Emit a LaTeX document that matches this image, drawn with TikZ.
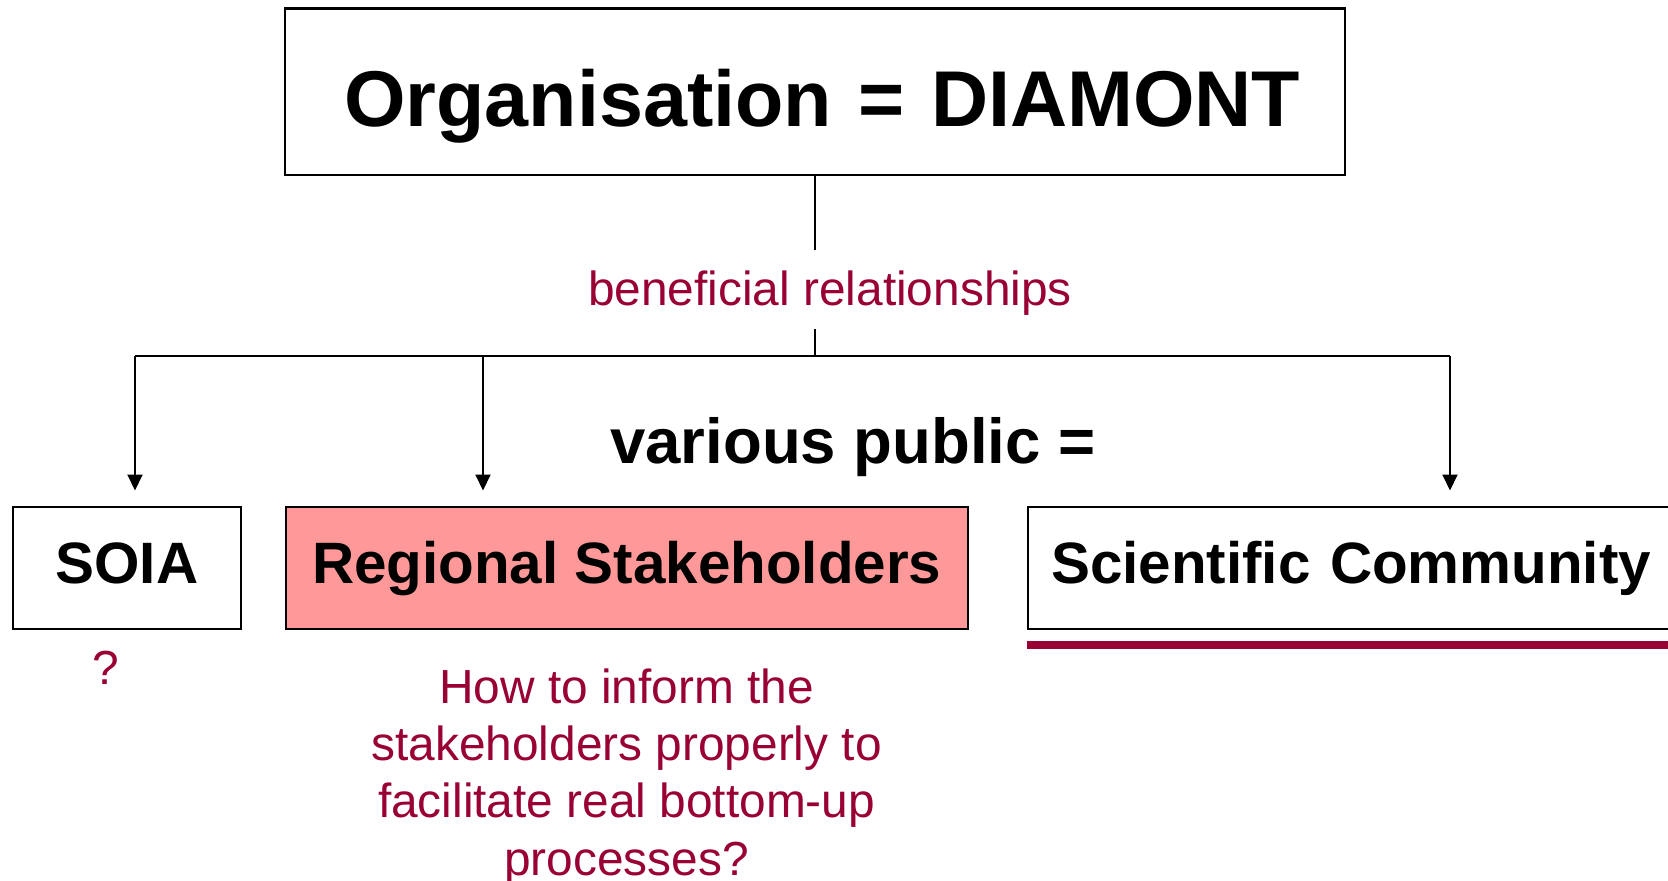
\documentclass[tikz,border=0pt]{standalone}
\usepackage{fontspec}
\setmainfont{Liberation Sans}
\usetikzlibrary{arrows.meta,positioning}
\definecolor{wine}{HTML}{990033}
\definecolor{rose}{HTML}{FF9999}
\begin{document}
\begin{tikzpicture}[x=0.01cm,y=-0.01cm,
  box/.style={draw,line width=0.6pt,minimum height=1.22cm,inner sep=0pt,text height=9pt,text depth=0pt,font=\fontsize{16.6}{20}\selectfont\bfseries},
  note/.style={text=wine,font=\fontsize{13.6}{16.32}\selectfont,align=center,inner sep=0pt},
  link/.style={line width=0.45pt,-{Triangle[length=4.5pt,width=4.3pt]}}]
\useasboundingbox (0,0) rectangle (1668,881);
\node[draw,line width=0.6pt,minimum width=10.6cm,minimum height=1.66cm,text width=9.7cm,align=right,inner xsep=0.45cm,text height=0.70cm,text depth=0pt,font=\fontsize{22.5}{27}\selectfont\bfseries] (org) at (815,91.5) {Organisation = DIAMONT};
\node[note,minimum height=0.776cm,text height=12.2pt,text depth=2.9pt] (rel) at (830,289.5) {beneficial relationships};
\node[box,minimum width=2.28cm] (soia) at (127,568) {SOIA};
\node[box,minimum width=6.815cm,fill=rose] (reg) at (626.75,568) {Regional Stakeholders};
\node[box,anchor=west,minimum width=6.63cm,text width=6.17cm,inner xsep=0.23cm] (sci) at (1027,568) {Scientific Community};
\node[font=\fontsize{18.07}{21.7}\selectfont\bfseries,anchor=base] (pub) at (853,463) {various public =};
\node[note,anchor=base] (q) at (105.5,684) {?};
\node[note] (how) at (626.6,776.8) {How to inform the\\stakeholders properly to\\facilitate real bottom-up\\processes?};
\coordinate (bus) at (815,356);
\coordinate (t1) at (135,356);
\coordinate (t2) at (483,356);
\coordinate (t3) at (1450,356);
\draw[line width=0.45pt] (org.south) -- (org.south |- rel.north) (org.south |- rel.south) -- (bus) (t1) -- (t3);
\foreach \t in {t1,t2,t3} \draw[link] (\t) -- ([yshift=0.155cm]\t |- soia.north);
\draw[wine,line width=2.3pt] ([yshift=-0.15cm]sci.south west) -- ([yshift=-0.15cm]sci.south east);
\end{tikzpicture}
\end{document}
